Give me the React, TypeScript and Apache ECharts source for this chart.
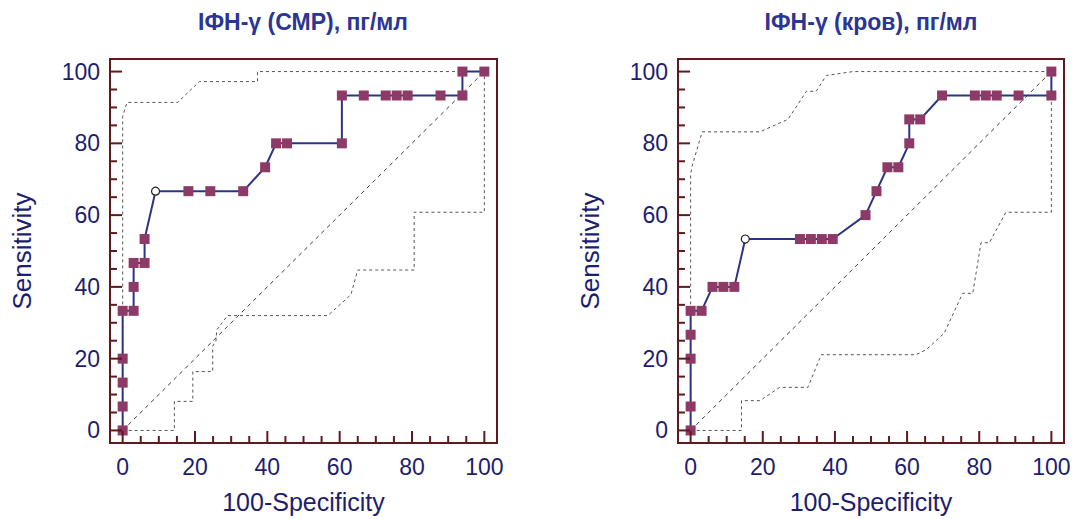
import React, { useEffect, useRef } from "react";
import * as echarts from "echarts";

// ---- data ----
const titleLeft = "ІФН-γ (СМР), пг/мл";
const titleRight = "ІФН-γ (кров), пг/мл";
const xName = "100-Specificity";
const yName = "Sensitivity";
const majorTicks = [0, 20, 40, 60, 80, 100];
const allTicks = [0, 5, 10, 15, 20, 25, 30, 35, 40, 45, 50, 55, 60, 65, 70, 75, 80, 85, 90, 95, 100];

const rocLeft: number[][] = [
  [0, 0], [0, 6.67], [0, 13.33], [0, 20], [0, 33.33], [3.03, 33.33], [3.03, 40], [3.03, 46.67],
  [6.06, 46.67], [6.06, 53.33], [9.09, 66.67], [18.18, 66.67], [24.24, 66.67], [33.33, 66.67],
  [39.39, 73.33], [42.42, 80], [45.45, 80], [60.61, 80], [60.61, 93.33], [66.67, 93.33],
  [72.73, 93.33], [75.76, 93.33], [78.79, 93.33], [87.88, 93.33], [93.94, 93.33], [93.94, 100], [100, 100],
];
const optLeft = [9.09, 66.67];
const upperLeft: number[][] = [
  [0, 0], [0, 87.5], [1.2, 91.4], [15.2, 91.4], [21.2, 97.2], [37.3, 97.2], [37.3, 100], [100, 100],
];
const lowerLeft: number[][] = [
  [0, 0], [14.3, 0], [14.3, 8.1], [19.4, 8.1], [19.4, 16.4], [24.9, 16.4], [24.9, 23.5], [25.8, 24.9],
  [26.0, 28.0], [29.0, 32.0], [56.7, 32.0], [63.1, 37.8], [65.0, 44.7], [80.6, 44.7], [80.6, 60.8],
  [100, 60.8], [100, 100],
];

const rocRight: number[][] = [
  [0, 0], [0, 6.67], [0, 20], [0, 26.67], [0, 33.33], [3.03, 33.33], [6.06, 40], [9.09, 40], [12.12, 40],
  [15.15, 53.33], [30.3, 53.33], [33.33, 53.33], [36.36, 53.33], [39.39, 53.33], [48.48, 60],
  [51.52, 66.67], [54.55, 73.33], [57.58, 73.33], [60.61, 80], [60.61, 86.67], [63.64, 86.67],
  [69.7, 93.33], [78.79, 93.33], [81.82, 93.33], [84.85, 93.33], [90.91, 93.33], [100, 93.33], [100, 100],
];
const optRight = [15.15, 53.33];
const upperRight: number[][] = [
  [0, 0], [0, 71], [0.3, 73.3], [3.2, 83.2], [19.2, 83.2], [27.0, 86.7], [32.1, 94.5], [34.8, 94.5],
  [37.6, 98.9], [45, 100], [100, 100],
];
const lowerRight: number[][] = [
  [0, 0], [14.1, 0], [14.1, 8.3], [19.2, 8.3], [24.7, 12], [32.5, 12], [36.2, 21.1], [62.5, 21.1],
  [65.3, 22.5], [70.3, 27.1], [75.4, 38.2], [78.2, 38.2], [80.5, 52.3], [82.8, 52.3], [87.4, 60.8],
  [100, 60.8], [100, 93.33],
];
const diagonal: number[][] = [[0, 0], [100, 100]];

// ---- styles ----
const FONT = "'Liberation Sans', Arial, sans-serif";
const FRAME = "#5e1a1c";
const LABEL = "#1d1d70";
const TITLE = "#2b3592";
const LINE = "#2c3585";
const MARK = "#8e3a66";
const AMIN = -3.5;
const AMAX = 103.5;
const MAJOR_PX = 12;
const MINOR_PX = 7;

function axis(dim: "x" | "y", gridIndex: number) {
  const isX = dim === "x";
  return {
    type: "value",
    gridIndex,
    min: AMIN,
    max: AMAX,
    position: isX ? "bottom" : "left",
    axisLine: { show: false, onZero: false },
    axisTick: { show: false },
    axisLabel: { show: true, customValues: majorTicks, color: LABEL, fontSize: 23, fontFamily: FONT, margin: isX ? 12 : 10 },
    splitLine: { show: false },
    name: isX ? xName : yName,
    nameLocation: "middle",
    nameGap: isX ? 46 : 75,
    nameTextStyle: { color: LABEL, fontSize: isX ? 25 : 26, fontFamily: FONT },
  };
}

function chartSeries(gridIndex: number, roc: number[][], opt: number[], upper: number[][], lower: number[][]) {
  const xi = gridIndex;
  const yi = gridIndex;
  const dashed = (data: number[][], type: number[], color: string) => ({
    type: "line",
    xAxisIndex: xi,
    yAxisIndex: yi,
    data,
    symbol: "none",
    silent: true,
    lineStyle: { color, width: 1, type },
    z: 2,
  });
  return [
    dashed(diagonal, [4, 4], "#3a3a3a"),
    dashed(upper, [3, 3], "#555"),
    dashed(lower, [3, 3], "#555"),
    {
      type: "line",
      xAxisIndex: xi,
      yAxisIndex: yi,
      data: roc.map((p) =>
        p[0] === opt[0] && p[1] === opt[1]
          ? { value: p, symbol: "circle", symbolSize: 8, itemStyle: { color: "#ffffff", borderColor: "#222", borderWidth: 1.2 } }
          : { value: p }
      ),
      symbol: "rect",
      symbolSize: 10,
      showAllSymbol: true,
      itemStyle: { color: MARK },
      lineStyle: { color: LINE, width: 2 },
      z: 5,
    },
  ];
}

export default function App() {
  const ref = useRef<HTMLDivElement>(null);
  useEffect(() => {
    if (!ref.current) return;
    const chart = echarts.init(ref.current, undefined, { renderer: "svg" });
    const gridBox = { show: true, borderColor: FRAME, borderWidth: 2, backgroundColor: "transparent" };
    const titleStyle = (text: string) => ({
      text,
      font: `bold 23px ${FONT}`,
      fill: TITLE,
      textAlign: "center",
      textVerticalAlign: "middle",
      align: "center",
      verticalAlign: "middle",
    });
    const titles = [
      { type: "text", x: 303, y: 22, style: titleStyle(titleLeft) },
      { type: "text", x: 871, y: 22, style: titleStyle(titleRight) },
    ];
    chart.setOption({
      animation: false,
      backgroundColor: "#ffffff",
      grid: [
        { ...gridBox, left: 110, top: 59, width: 387, height: 388 },
        { ...gridBox, left: 678, top: 59, width: 386, height: 388 },
      ],
      xAxis: [axis("x", 0), axis("x", 1)],
      yAxis: [axis("y", 0), axis("y", 1)],
      graphic: titles,
      series: [
        ...chartSeries(0, rocLeft, optLeft, upperLeft, lowerLeft),
        ...chartSeries(1, rocRight, optRight, upperRight, lowerRight),
      ],
    });

    // inward tick marks on the frame, positioned through the axes' own scales
    const ticks: any[] = [];
    [0, 1].forEach((gridIndex) => {
      allTicks.forEach((v) => {
        const len = majorTicks.indexOf(v) >= 0 ? MAJOR_PX : MINOR_PX;
        try {
          const px = chart.convertToPixel({ gridIndex } as any, [v, AMIN]) as number[];
          const py = chart.convertToPixel({ gridIndex } as any, [AMIN, v]) as number[];
          if (px && isFinite(px[0])) {
            ticks.push({
              type: "line",
              z: 100,
              silent: true,
              shape: { x1: px[0], y1: px[1], x2: px[0], y2: px[1] - len },
              style: { stroke: FRAME, lineWidth: 2 },
            });
          }
          if (py && isFinite(py[1])) {
            ticks.push({
              type: "line",
              z: 100,
              silent: true,
              shape: { x1: py[0], y1: py[1], x2: py[0] + len, y2: py[1] },
              style: { stroke: FRAME, lineWidth: 2 },
            });
          }
        } catch (e) {
          // ignore
        }
      });
    });
    chart.setOption({ graphic: [...titles, ...ticks] });

    return () => chart.dispose();
  }, []);
  return <div ref={ref} style={{ position: "fixed", left: 0, top: 0, width: 1076, height: 519 }} />;
}
